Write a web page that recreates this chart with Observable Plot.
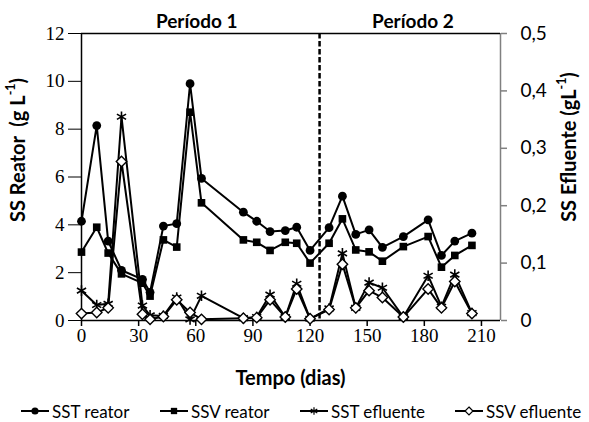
<!DOCTYPE html>
<html><head><meta charset="utf-8">
<script src="https://cdn.jsdelivr.net/npm/d3@7"></script>
<script src="https://cdn.jsdelivr.net/npm/@observablehq/plot@0.6"></script>
<style>
body{margin:0;background:#fff;}
#wrap{position:relative;width:589px;height:422px;overflow:hidden;}
#legend{position:absolute;left:0;top:400px;width:589px;height:22px;font-family:Lato,sans-serif;font-size:17px;color:#000;}
.item{position:absolute;top:0;height:22px;display:flex;align-items:center;white-space:nowrap;}
.item svg{margin-right:3px;}
</style></head><body>
<div id="wrap"><div id="chart"></div><div id="legend"></div></div>
<script>
// ---- data ----
const days = [0, 8, 14, 21, 32, 36, 43, 50, 57, 63, 85, 92, 99, 107, 113, 120, 130, 137, 144, 151, 158, 169, 182, 189, 196, 205];
const sstReator = [4.15, 8.15, 3.32, 2.1, 1.72, 1.18, 3.95, 4.05, 9.9, 5.94, 4.53, 4.15, 3.72, 3.76, 3.9, 2.93, 3.88, 5.2, 3.6, 3.79, 3.06, 3.51, 4.21, 2.72, 3.32, 3.65];
const ssvReator = [2.86, 3.9, 2.82, 1.95, 1.56, 1.02, 3.37, 3.07, 8.71, 4.92, 3.37, 3.27, 2.93, 3.27, 3.23, 2.4, 3.23, 4.25, 2.95, 2.87, 2.48, 3.09, 3.51, 2.23, 2.72, 3.14];
const sstEfluente = [0.052, 0.027, 0.029, 0.355, 0.026, 0.009, 0.008, 0.040, 0.002, 0.043, 0.004, 0.006, 0.045, 0.006, 0.064, 0.003, 0.021, 0.117, 0.022, 0.066, 0.057, 0.006, 0.078, 0.024, 0.080, 0.013];
const ssvEfluente = [0.012, 0.014, 0.022, 0.277, 0.011, 0.002, 0.007, 0.036, 0.014, 0.002, 0.004, 0.005, 0.036, 0.006, 0.055, 0.003, 0.019, 0.098, 0.022, 0.052, 0.040, 0.006, 0.055, 0.022, 0.068, 0.012];

const xTicks = [0, 30, 60, 90, 120, 150, 180, 210];
const leftTicks = [0, 2, 4, 6, 8, 10, 12];
const rightTicks = [0, 0.1, 0.2, 0.3, 0.4, 0.5];
const rightTickLabels = ["0", "0,1", "0,2", "0,3", "0,4", "0,5"];
const periods = [{label: "Período 1", day: 60.5}, {label: "Período 2", day: 174}];
const periodBoundary = [125];
const xMax = 220, leftMax = 12, rightMax = 0.5;
const k = leftMax / rightMax; // right-axis to left-axis factor

const rows = vals => days.map((d, i) => ({day: d, v: vals[i]}));
const sstR = rows(sstReator), ssvR = rows(ssvReator), sstE = rows(sstEfluente), ssvE = rows(ssvEfluente);

const serif = "'Liberation Serif', 'Times New Roman', serif";
const sans = "Lato, 'Liberation Sans', sans-serif";

const chart = Plot.plot({
  width: 589, height: 400,
  marginLeft: 81, marginRight: 89, marginTop: 33, marginBottom: 80,
  x: {domain: [0, xMax]},
  y: {domain: [0, leftMax]},
  style: {background: "white", color: "black", overflow: "visible"},
  marks: [
    Plot.axisY({ticks: leftTicks, tickSize: 13, tickPadding: 4, fontSize: 19, fontFamily: serif, label: null, tickFormat: d => String(d)}),
    Plot.axisY({anchor: "right", ticks: rightTicks.map(v => v * k), tickFormat: d => rightTickLabels[Math.round(d / k * 10)], tickSize: 6, tickPadding: 14, fontSize: 19, fontFamily: sans, label: null, stroke: "#808080", fill: "black", strokeWidth: 1.5}),
    Plot.axisX({ticks: xTicks, tickSize: 6, tickPadding: 2, fontSize: 19, fontFamily: serif, label: null, strokeWidth: 1.5}),
    Plot.ruleX([xMax], {stroke: "#808080", strokeWidth: 1.5}),
    Plot.ruleY([leftMax], {stroke: "black", strokeWidth: 1.5}),
    Plot.ruleY([0], {stroke: "black", strokeWidth: 1.5}),
    Plot.ruleX([0], {stroke: "black", strokeWidth: 1.5}),
    Plot.ruleX(periodBoundary, {stroke: "black", strokeWidth: 2.5, strokeDasharray: "5.5,2.5"}),
    Plot.line(sstR, {x: "day", y: "v", stroke: "black", strokeWidth: 2}),
    Plot.dot(sstR, {x: "day", y: "v", symbol: "circle", r: 4.4, fill: "black", stroke: "none"}),
    Plot.line(ssvR, {x: "day", y: "v", stroke: "black", strokeWidth: 2}),
    Plot.dot(ssvR, {x: "day", y: "v", symbol: "square", r: 4.3, fill: "black", stroke: "none"}),
    Plot.line(sstE, {x: "day", y: d => d.v * k, stroke: "black", strokeWidth: 2}),
    Plot.dot(sstE, {x: "day", y: d => d.v * k, symbol: "asterisk", r: 5, stroke: "black", strokeWidth: 1.6}),
    Plot.line(ssvE, {x: "day", y: d => d.v * k, stroke: "black", strokeWidth: 2}),
    Plot.dot(ssvE, {x: "day", y: d => d.v * k, symbol: "diamond2", r: 4.7, fill: "white", stroke: "black", strokeWidth: 1.4}),
    Plot.text(periods, {x: "day", text: "label", frameAnchor: "top", lineAnchor: "middle", dy: -12, fontSize: 19, fontWeight: "bold", fontFamily: sans})
  ]
});
document.getElementById("chart").appendChild(chart);

// ---- axis titles ----
const svg = d3.select(chart);
function title(x, y, rot, parts, size) {
  const t = svg.append("text")
    .attr("transform", `translate(${x},${y}) rotate(${rot})`)
    .attr("text-anchor", "middle").attr("dominant-baseline", "middle")
    .attr("font-family", sans).attr("font-weight", "bold").attr("font-size", size).attr("fill", "black");
  parts.forEach(p => {
    const s = t.append("tspan").text(p.t);
    if (p.sup) s.attr("font-size", size * 0.62).attr("dy", -size * 0.38);
    if (p.after) s.attr("dy", size * 0.38);
  });
}
title(20, 150, -90, [{t: "SS Reator  (g L"}, {t: "-1", sup: true}, {t: ")", after: true}], 20);
title(571, 147, -90, [{t: "SS Efluente (gL"}, {t: "-1", sup: true}, {t: ")", after: true}], 20);
title(290.5, 380, 0, [{t: "Tempo (dias)"}], 20);

// ---- legend ----
const legendItems = [
  {label: "SST reator", sym: d3.symbolCircle, fill: "black", left: 21},
  {label: "SSV reator", sym: d3.symbolSquare, fill: "black", left: 160},
  {label: "SST efluente", sym: d3.symbolAsterisk, fill: "none", left: 300},
  {label: "SSV efluente", sym: d3.symbolDiamond2, fill: "white", left: 455}
];
const leg = d3.select("#legend");
legendItems.forEach(it => {
  const div = leg.append("div").attr("class", "item").style("left", it.left + "px");
  const s = div.append("svg").attr("width", 28).attr("height", 14);
  s.append("line").attr("x1", 0).attr("x2", 28).attr("y1", 7).attr("y2", 7).attr("stroke", "black").attr("stroke-width", 2);
  s.append("path").attr("d", d3.symbol(it.sym, 40)()).attr("transform", "translate(14,7)")
    .attr("fill", it.fill).attr("stroke", "black").attr("stroke-width", it.fill === "black" ? 0 : 1.2);
  div.append("span").text(it.label);
});
</script>
</body></html>
